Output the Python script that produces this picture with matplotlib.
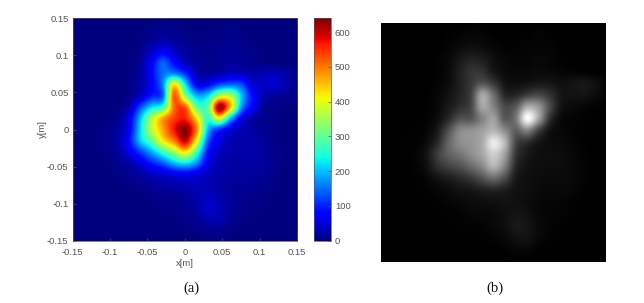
import matplotlib
matplotlib.use("Agg")
import matplotlib.pyplot as plt
import numpy as np

# values, top row is y=0.15, step 0.015 m
x_min, x_max = -0.15, 0.15
ticks = [-0.15, -0.1, -0.05, 0, 0.05, 0.1, 0.15]
tick_labels = ["-0.15", "-0.1", "-0.05", "0", "0.05", "0.1", "0.15"]
cbar_ticks = [0, 100, 200, 300, 400, 500, 600]

power = [
    [0, 0, 0, 0, 0, 0, 0, 0, 2, 2, 0, 0, 0, 0, 1, 0, 0, 0, 0, 0, 0],
    [0, 0, 0, 0, 0, 0, 2, 5, 10, 8, 3, 2, 2, 3, 5, 3, 1, 0, 0, 0, 0],
    [0, 0, 0, 0, 0, 0, 5, 15, 25, 15, 8, 4, 4, 6, 10, 6, 2, 1, 0, 0, 0],
    [0, 0, 0, 0, 0, 2, 10, 40, 70, 40, 20, 10, 8, 10, 14, 10, 5, 2, 1, 0, 0],
    [0, 0, 0, 0, 0, 3, 15, 70, 140, 80, 35, 15, 10, 12, 18, 15, 8, 4, 2, 1, 0],
    [0, 0, 0, 0, 0, 4, 20, 80, 150, 170, 110, 30, 18, 25, 40, 35, 25, 30, 35, 20, 5],
    [0, 0, 0, 0, 1, 5, 25, 70, 170, 430, 230, 70, 80, 130, 150, 130, 50, 40, 45, 25, 8],
    [0, 0, 0, 0, 2, 8, 40, 100, 150, 520, 330, 200, 220, 370, 370, 200, 80, 25, 15, 10, 5],
    [0, 0, 0, 1, 3, 30, 130, 220, 270, 510, 520, 300, 300, 630, 450, 170, 70, 12, 6, 3, 1],
    [0, 0, 1, 3, 12, 60, 200, 360, 470, 540, 560, 430, 260, 400, 200, 60, 20, 10, 4, 2, 0],
    [0, 1, 3, 6, 20, 70, 220, 370, 470, 570, 635, 490, 200, 110, 55, 30, 20, 12, 5, 2, 0],
    [0, 1, 3, 8, 25, 85, 210, 300, 420, 500, 600, 410, 140, 60, 30, 25, 25, 15, 6, 2, 0],
    [0, 0, 2, 6, 18, 60, 120, 190, 270, 350, 430, 280, 90, 40, 25, 25, 25, 15, 8, 2, 0],
    [0, 0, 1, 3, 10, 25, 55, 100, 140, 200, 230, 170, 60, 30, 22, 20, 22, 18, 8, 2, 0],
    [0, 0, 0, 1, 4, 10, 20, 35, 45, 60, 70, 55, 35, 25, 20, 18, 18, 15, 6, 1, 0],
    [0, 0, 0, 0, 1, 4, 8, 14, 20, 25, 30, 35, 30, 20, 15, 14, 12, 8, 3, 1, 0],
    [0, 0, 0, 0, 0, 1, 2, 5, 8, 10, 15, 25, 35, 25, 15, 10, 8, 5, 2, 0, 0],
    [0, 0, 0, 0, 0, 0, 1, 2, 4, 6, 10, 22, 42, 32, 15, 8, 5, 3, 1, 0, 0],
    [0, 0, 0, 0, 0, 0, 0, 1, 2, 3, 6, 12, 28, 28, 12, 5, 3, 1, 0, 0, 0],
    [0, 0, 0, 0, 0, 0, 0, 0, 1, 1, 2, 5, 10, 10, 4, 2, 1, 0, 0, 0, 0],
    [0, 0, 0, 0, 0, 0, 0, 0, 0, 0, 0, 1, 2, 2, 1, 0, 0, 0, 0, 0, 0],
]

gray_img = [
    [0, 0, 0, 0, 0, 0, 0, 0, 2, 2, 0, 0, 0, 0, 1, 0, 0, 0, 0, 0, 0],
    [0, 0, 0, 0, 0, 0, 2, 4, 6, 5, 2, 1, 1, 2, 4, 2, 0, 0, 0, 0, 0],
    [0, 0, 0, 0, 0, 0, 4, 10, 15, 12, 6, 3, 3, 4, 5, 4, 1, 0, 0, 0, 0],
    [0, 0, 0, 0, 0, 2, 8, 22, 32, 28, 15, 8, 5, 6, 8, 6, 3, 1, 0, 0, 0],
    [0, 0, 0, 0, 0, 3, 10, 30, 50, 48, 22, 10, 8, 8, 10, 8, 5, 3, 1, 0, 0],
    [0, 0, 0, 0, 0, 4, 12, 32, 55, 80, 55, 20, 14, 18, 22, 22, 15, 18, 22, 15, 5],
    [0, 0, 0, 0, 1, 6, 18, 35, 65, 165, 110, 40, 38, 60, 70, 50, 22, 18, 20, 12, 4],
    [0, 0, 0, 0, 2, 8, 25, 45, 70, 165, 130, 75, 90, 170, 150, 75, 20, 10, 6, 3, 1],
    [0, 0, 0, 1, 3, 12, 40, 80, 85, 130, 160, 90, 120, 250, 165, 50, 10, 5, 2, 1, 0],
    [0, 0, 1, 2, 5, 25, 80, 135, 145, 160, 180, 140, 95, 130, 65, 18, 8, 4, 2, 0, 0],
    [0, 1, 2, 3, 10, 40, 100, 140, 150, 170, 235, 185, 70, 45, 22, 12, 10, 6, 2, 0, 0],
    [0, 1, 2, 4, 18, 60, 95, 115, 140, 165, 205, 160, 55, 25, 15, 14, 12, 8, 3, 0, 0],
    [0, 0, 1, 3, 14, 45, 65, 80, 105, 135, 180, 130, 40, 18, 14, 12, 12, 8, 4, 1, 0],
    [0, 0, 0, 2, 6, 18, 28, 40, 55, 80, 105, 75, 25, 15, 12, 10, 10, 8, 4, 1, 0],
    [0, 0, 0, 1, 2, 6, 12, 18, 22, 30, 35, 28, 18, 14, 10, 8, 8, 6, 2, 0, 0],
    [0, 0, 0, 0, 1, 2, 5, 8, 12, 14, 16, 18, 16, 12, 8, 6, 5, 3, 1, 0, 0],
    [0, 0, 0, 0, 0, 1, 2, 4, 6, 8, 10, 14, 20, 16, 8, 5, 4, 2, 1, 0, 0],
    [0, 0, 0, 0, 0, 0, 1, 2, 3, 4, 8, 14, 24, 20, 10, 4, 2, 1, 0, 0, 0],
    [0, 0, 0, 0, 0, 0, 0, 1, 1, 2, 4, 8, 16, 18, 8, 3, 1, 0, 0, 0, 0],
    [0, 0, 0, 0, 0, 0, 0, 0, 0, 1, 1, 3, 6, 6, 2, 1, 0, 0, 0, 0, 0],
    [0, 0, 0, 0, 0, 0, 0, 0, 0, 0, 0, 0, 1, 1, 0, 0, 0, 0, 0, 0, 0],
]

W, H = 644, 303
TXT = "#555555"


def px_axes(fig, left, top, right, bottom):
    return fig.add_axes([left / W, 1 - bottom / H, (right - left) / W, (bottom - top) / H])


plt.rcParams["font.family"] = ["Liberation Sans", "DejaVu Sans"]
fig = plt.figure(figsize=(W / 100, H / 100), dpi=100)

step = 0.015
ext = (x_min - step / 2, x_max + step / 2, x_min - step / 2, x_max + step / 2)

ax = px_axes(fig, 72.7, 18.3, 297, 240.7)
# catrom goes through the grid values, agg's bicubic flattens the peaks
im = ax.imshow(power, cmap="jet", vmin=0, vmax=640, extent=ext, interpolation="catrom", aspect="auto")
ax.set_xlim(x_min, x_max)
ax.set_ylim(x_min, x_max)
ax.set_xticks(ticks, tick_labels)
ax.set_yticks(ticks, tick_labels)
ax.tick_params(direction="in", length=2, width=0.5, colors=TXT, labelsize=6.8)
ax.tick_params(axis="x", pad=5)
ax.tick_params(axis="y", pad=3)
ax.set_xlabel("x[m]", fontsize=6.8, color=TXT, labelpad=2)
ax.set_ylabel("y[m]", fontsize=6.8, color=TXT, labelpad=0)
for s in ax.spines.values():
    s.set_linewidth(0.5)
    s.set_color(TXT)

cax = px_axes(fig, 313.7, 18.3, 330.7, 240.7)
cb = fig.colorbar(im, cax=cax)
cb.set_ticks(cbar_ticks)
cb.ax.tick_params(direction="in", length=2, width=0.5, colors=TXT, labelsize=6.8, pad=3)
cb.outline.set_linewidth(0.5)
cb.outline.set_edgecolor(TXT)

ax2 = px_axes(fig, 381.3, 23.3, 606.3, 262.3)
ax2.imshow(gray_img, cmap="gray", vmin=0, vmax=255, extent=ext, interpolation="catrom", aspect="auto")
ax2.set_xlim(x_min, x_max)
ax2.set_ylim(x_min, x_max)
ax2.axis("off")

fig.text(191 / W, 1 - 288 / H, "(a)", family="Liberation Serif", fontsize=10.5, color="#111111", ha="center", va="center")
fig.text(495 / W, 1 - 288 / H, "(b)", family="Liberation Serif", fontsize=10.5, color="#111111", ha="center", va="center")

fig.savefig("out.png", dpi=100)
